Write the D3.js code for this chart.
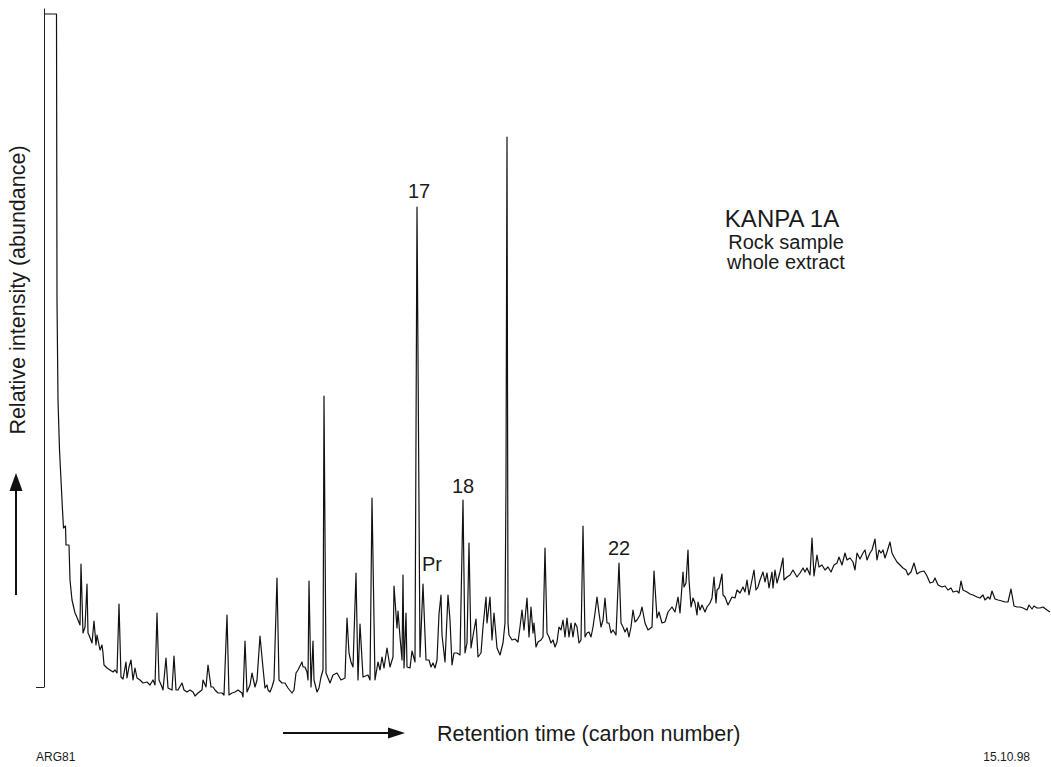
<!DOCTYPE html>
<html>
<head>
<meta charset="utf-8">
<script src="https://cdn.jsdelivr.net/npm/d3@7"></script>
<style>
  html, body { margin: 0; padding: 0; background: #fff; }
  svg { display: block; }
  text { font-family: "Liberation Sans", Arial, Helvetica, sans-serif; fill: #1a1a1a; }
</style>
</head>
<body>
<svg id="chart" width="1051" height="767"></svg>
<script>
// Gas chromatogram, whole extract of the KANPA 1A rock sample.
// Scan number along the run and detector abundance (arbitrary units).
const scans = [
  0, 12.5, 13, 14, 15.5, 17, 18.5, 19.5, 21.5, 22, 25, 26, 28, 31, 32, 34, 36, 37, 39, 41,
  43, 44, 45, 48, 50, 52, 53, 54, 56, 58, 59, 60, 63, 66, 69, 71, 73, 75, 77, 79,
  82, 83, 85, 87, 89, 91, 93, 96, 99, 103, 106, 109, 111, 113, 115, 118, 119, 122, 124, 128,
  130, 132, 134, 138, 140, 143, 146, 149, 151, 154, 158, 159, 162, 164, 167, 169, 171, 174, 178, 180,
  183, 185, 188, 191, 194, 198, 199, 201, 203, 206, 208, 211, 213, 216, 219, 221, 223, 224, 226, 228,
  230, 233, 235, 238, 241, 244, 248, 250, 252, 254, 258, 259, 261, 263, 264, 265, 267, 269, 270, 273,
  275, 277, 279, 280, 282, 286, 289, 293, 297, 301, 303, 305, 307, 309, 312, 314, 316, 319, 324, 326,
  328, 331, 334, 336, 338, 340, 343, 346, 349, 350, 353, 354, 356, 358, 359, 360, 362, 363, 366, 368,
  371, 373, 376, 379, 382, 385, 387, 389, 391, 393, 395, 397, 398, 401, 404, 406, 408, 410, 413, 416,
  419, 421, 423, 425, 427, 430, 432, 434, 437, 439, 442, 443, 446, 448, 450, 453, 456, 459, 461, 462,
  463, 464, 465, 468, 471, 474, 476, 478, 480, 483, 485, 487, 489, 490, 492, 494, 497, 499, 501, 503,
  505, 507, 509, 511, 513, 515, 517, 519, 521, 523, 525, 527, 529, 531, 533, 535, 537, 539, 541, 543,
  545, 547, 549, 551, 553, 555, 557, 559, 561, 563, 565, 567, 569, 572, 575, 577, 579, 581, 583, 585,
  587, 589, 591, 593, 596, 598, 601, 604, 608, 610, 613, 615, 618, 621, 624, 628, 631, 634, 636, 639,
  640, 642, 644, 645, 647, 649, 651, 653, 654, 656, 658, 661, 663, 666, 668, 670, 672, 673, 675, 678,
  679, 681, 684, 688, 691, 693, 696, 699, 701, 703, 705, 708, 710, 712, 714, 716, 719, 721, 723, 725,
  728, 729, 731, 733, 736, 739, 740, 743, 746, 749, 753, 756, 759, 761, 763, 766, 768, 770, 773, 775,
  778, 781, 784, 787, 790, 793, 795, 798, 801, 803, 806, 809, 811, 813, 816, 819, 821, 823, 826, 828,
  831, 833, 835, 837, 839, 841, 843, 846, 848, 850, 853, 856, 859, 862, 864, 867, 870, 873, 876, 880,
  883, 886, 889, 891, 894, 898, 901, 904, 907, 909, 913, 915, 917, 919, 923, 926, 929, 933, 936, 939,
  941, 944, 946, 948, 951, 954, 958, 961, 964, 967, 970, 973, 976, 979, 983, 985, 988, 990, 993, 996,
  999, 1003, 1006
];
const abundance = [
  683, 683, 397, 297, 247, 217, 187, 169, 171, 152, 152, 117, 97, 84, 82, 77, 72, 133, 64, 70,
  113, 64, 62, 54, 76, 52, 62, 57, 47, 52, 44, 32, 29, 27, 25, 27, 24, 93, 20, 18,
  35, 19, 30, 37, 17, 29, 19, 17, 14, 15, 12, 17, 12, 84, 17, 10, 7, 39, 9, 7,
  41, 7, 7, 14, 7, 5, 7, 5, 1, 4, 7, 17, 10, 32, 10, 10, 7, 4, 4, 2,
  82, 2, 4, 5, 7, 4, 0, 56, 5, 12, 24, 10, 17, 61, 29, 9, 12, 7, 5, 10,
  17, 119, 17, 14, 14, 9, 4, 7, 24, 27, 35, 30, 30, 25, 17, 116, 10, 56, 17, 5,
  9, 20, 27, 301, 24, 14, 22, 24, 17, 19, 79, 44, 35, 30, 124, 17, 73, 20, 22, 17,
  199, 17, 35, 27, 40, 29, 49, 30, 40, 111, 69, 86, 60, 37, 122, 29, 84, 30, 29, 46,
  35, 490, 40, 113, 37, 37, 30, 34, 29, 37, 83, 102, 62, 35, 102, 77, 32, 44, 44, 42,
  197, 44, 54, 154, 49, 67, 78, 40, 44, 70, 100, 74, 100, 57, 84, 49, 42, 54, 74, 214,
  560, 74, 62, 57, 58, 55, 70, 87, 67, 99, 60, 90, 64, 74, 50, 55, 57, 60, 149, 64,
  60, 54, 57, 50, 55, 70, 67, 77, 60, 79, 60, 74, 60, 74, 70, 54, 57, 171, 60, 64,
  65, 60, 70, 84, 100, 84, 70, 77, 99, 74, 74, 64, 67, 62, 134, 74, 70, 65, 69, 60,
  70, 87, 75, 77, 82, 90, 74, 67, 70, 126, 79, 85, 74, 75, 85, 90, 85, 100, 84, 125,
  110, 114, 147, 117, 90, 99, 94, 82, 95, 87, 92, 85, 90, 94, 99, 120, 94, 107, 109, 123,
  102, 100, 92, 100, 99, 107, 104, 110, 105, 117, 102, 117, 127, 107, 110, 117, 125, 115, 124, 109,
  125, 109, 127, 114, 125, 139, 117, 120, 122, 127, 120, 124, 129, 125, 129, 122, 159, 121, 142, 130,
  132, 127, 130, 125, 132, 134, 140, 132, 144, 137, 139, 135, 127, 144, 138, 144, 147, 137, 144, 147,
  158, 137, 147, 144, 147, 139, 145, 155, 144, 140, 135, 132, 129, 127, 122, 125, 134, 123, 125, 126,
  121, 114, 115, 119, 112, 110, 111, 107, 109, 105, 106, 104, 116, 107, 105, 103, 102, 100, 99, 102,
  97, 100, 98, 106, 98, 97, 96, 95, 95, 108, 91, 90, 90, 89, 87, 92, 88, 91, 89, 89,
  90, 87, 85
];

// Annotated peaks: n-alkane carbon numbers and pristane
const peakLabels = ["17", "Pr", "18", "22"];
const peakScans = [373, 379, 419, 575];

// Text blocks
const sampleTitle = ["KANPA 1A", "Rock sample", "whole extract"];
const yTitle = "Relative intensity (abundance)";
const xTitle = "Retention time (carbon number)";
const footerLeft = "ARG81";
const footerRight = "15.10.98";

// Range of the drawn intensity axis
const axisFloor = 10;
const axisCeiling = 689;

const svg = d3.select("#chart");

const x = d3.scaleLinear().domain([0, 1006]).range([44, 1050]);
const y = d3.scaleLinear().domain([0, 689]).range([697, 8]);

// Left intensity axis: a bare line with a single base tick
const axisScale = y.copy().domain([axisFloor, axisCeiling]).range([y(axisFloor), y(axisCeiling)]);
const yAxis = svg.append("g")
  .attr("transform", `translate(${x(0)},0)`)
  .call(d3.axisLeft(axisScale).tickValues([axisFloor]).tickSize(8).tickSizeOuter(0).tickFormat(""));
yAxis.selectAll("path, line").attr("stroke", "#222").attr("stroke-width", 1);

// Chromatogram trace
const points = scans.map((s, i) => [s, abundance[i]]);
const line = d3.line().x(d => x(d[0])).y(d => y(d[1]));
svg.append("path")
  .datum(points)
  .attr("d", line)
  .attr("fill", "none")
  .attr("stroke", "#111")
  .attr("stroke-width", 1.2)
  .attr("stroke-linejoin", "round");

// Peak annotations placed above each labelled peak
const labelLayout = {
  "17": { anchor: "middle", dx: 2, gap: 9 },
  "18": { anchor: "middle", dx: 0, gap: 7 },
  "22": { anchor: "middle", dx: 0, gap: 8 },
  "Pr": { anchor: "start", dx: -1, gap: 13 }
};
peakLabels.forEach((lab, i) => {
  const s = peakScans[i];
  const v = abundance[scans.indexOf(s)];
  const lay = labelLayout[lab];
  svg.append("text")
    .attr("x", x(s) + lay.dx)
    .attr("y", y(v) - lay.gap)
    .attr("text-anchor", lay.anchor)
    .attr("font-size", 20)
    .text(lab);
});

// Sample title block
const titleSizes = [24, 20, 20];
const titleBaselines = [227, 249, 269];
const titleCenters = [782, 786, 786];
sampleTitle.forEach((t, i) => {
  svg.append("text")
    .attr("x", titleCenters[i])
    .attr("y", titleBaselines[i])
    .attr("text-anchor", "middle")
    .attr("font-size", titleSizes[i])
    .text(t);
});

// Axis titles
svg.append("text")
  .attr("transform", "translate(25,290) rotate(-90)")
  .attr("text-anchor", "middle")
  .attr("font-size", 21.5)
  .text(yTitle);

svg.append("text")
  .attr("x", 437)
  .attr("y", 741)
  .attr("font-size", 21.5)
  .text(xTitle);

// Direction arrows
function arrow(x1, y1, x2, y2, headLen, headHalf) {
  const ang = Math.atan2(y2 - y1, x2 - x1);
  const bx = x2 - headLen * Math.cos(ang), by = y2 - headLen * Math.sin(ang);
  svg.append("line")
    .attr("x1", x1).attr("y1", y1).attr("x2", bx).attr("y2", by)
    .attr("stroke", "#111").attr("stroke-width", 2);
  const px = -Math.sin(ang) * headHalf, py = Math.cos(ang) * headHalf;
  svg.append("path")
    .attr("d", `M${x2},${y2}L${bx + px},${by + py}L${bx - px},${by - py}Z`)
    .attr("fill", "#111");
}
arrow(16, 595, 16, 473, 18, 6.5);
arrow(283, 733, 405, 733, 17, 5.5);

// Footer
svg.append("text").attr("x", 36).attr("y", 761).attr("font-size", 12).text(footerLeft);
svg.append("text").attr("x", 1030).attr("y", 761).attr("font-size", 12)
  .attr("text-anchor", "end").text(footerRight);
</script>
</body>
</html>
